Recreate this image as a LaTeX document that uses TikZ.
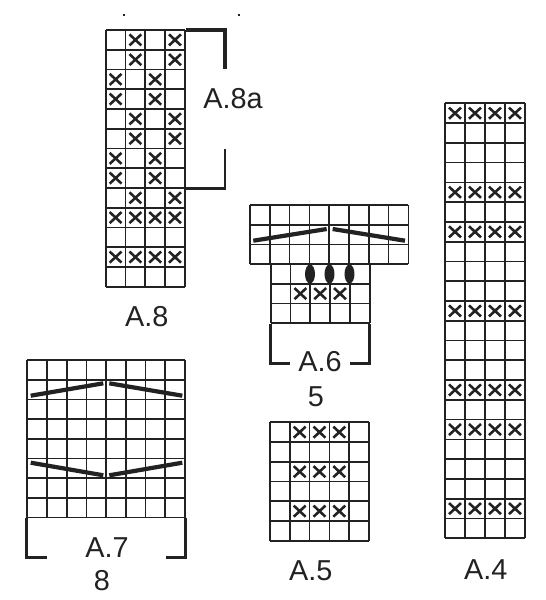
\documentclass[tikz,border=0pt]{standalone}
\usepackage{fontspec}
\usepackage{xcolor}
\usepackage{tikz}
\setmainfont{Liberation Sans}
\definecolor{inkc}{HTML}{222222}
\tikzset{
  cell/.style={x=0.396cm,y=-0.395cm},
  gl/.style={inkc,line width=0.95pt},
  xm/.style={inkc,line width=1.45pt},
  dec/.style={inkc,line width=2.4pt},
  brk/.style={inkc,line width=1.7pt,line join=miter},
  lbl/.style={inkc,font=\fontsize{16.4}{18}\selectfont,inner sep=0pt}
}
\newcommand{\chart}[2]{
  \foreach \i in {0,...,#1} \draw[gl] (\i,0)--(\i,#2);
  \foreach \j in {0,...,#2} \draw[gl] (0,\j)--(#1,\j);
}
\newcommand{\xmark}[2]{\draw[xm] (#1+.2,#2+.22)--(#1+.8,#2+.78) (#1+.2,#2+.78)--(#1+.8,#2+.22);}
\begin{document}
\begin{tikzpicture}[x=0.02cm,y=-0.02cm]
\useasboundingbox (0,0) rectangle (546,600);
\fill[white] (0,0) rectangle (546,600);
% A.8
\begin{scope}[shift={(105.7,30)},cell]
\chart{4}{13}
\foreach \c/\r in {1/0,3/0,1/1,3/1,0/2,2/2,0/3,2/3,1/4,3/4,1/5,3/5,0/6,2/6,0/7,2/7,1/8,3/8} {\xmark{\c}{\r}}
\foreach \r in {9,11} \foreach \c in {0,...,3} {\xmark{\c}{\r}}
\end{scope}
\draw[brk,line width=2.1pt] (185.7,30)--(225,30)--(225,69);
\draw[brk] (225,149)--(225,188)--(185.7,188);
\draw[inkc,line width=0.8pt] (122.7,15)--(125.3,15) (237.7,15)--(240.3,15);
\node[lbl] (a8a) at (233,99) {A.8a};
\node[lbl] (a8) at (146.7,316.7) {A.8};
% A.7
\begin{scope}[shift={(27.3,360)},x=0.394cm,y=-0.394cm]
\chart{8}{8}
\end{scope}
\draw[dec] (30.7,395.7)--(103.3,383.3) (109.3,383.3)--(182.3,395.7);
\draw[dec] (30.7,462.7)--(103.3,475.3) (109.3,475.3)--(182.3,462.7);
\draw[brk] (26.7,517.7)--(26.7,557)--(46.7,557);
\draw[brk] (185.7,517.7)--(185.7,557)--(165.7,557);
\node[lbl] (a7) at (107,548) {A.7};
\node[lbl] (a7n) at (102,581) {8};
% A.6
\begin{scope}[shift={(250,205)},cell]
\chart{8}{3}
\end{scope}
\begin{scope}[shift={(270.7,264)},cell]
\chart{5}{3}
\foreach \c in {1,2,3} {\xmark{\c}{1}}
\end{scope}
\draw[dec] (253.3,240.7)--(326.7,229) (332.7,229)--(405,240.7);
\foreach \x in {310,329.5,349.5} {\fill[inkc] (\x,274) ellipse (5 and 9.5);}
\draw[brk] (270.7,324)--(270.7,363)--(290,363);
\draw[brk] (369.3,324)--(369.3,363)--(350,363);
\node[lbl] (a6) at (320,362) {A.6};
\node[lbl] (a6n) at (316,397) {5};
% A.5
\begin{scope}[shift={(270,422.3)},cell]
\chart{5}{6}
\foreach \r in {0,2,4} \foreach \c in {1,2,3} {\xmark{\c}{\r}}
\end{scope}
\node[lbl] (a5) at (310.7,570.7) {A.5};
% A.4
\begin{scope}[shift={(445,103.3)},x=0.4cm,y=-0.3955cm]
\chart{4}{22}
\foreach \r in {0,4,6,10,14,16,20} \foreach \c in {0,...,3} {\xmark{\c}{\r}}
\end{scope}
\node[lbl] (a4) at (485.7,569.3) {A.4};
\end{tikzpicture}
\end{document}
